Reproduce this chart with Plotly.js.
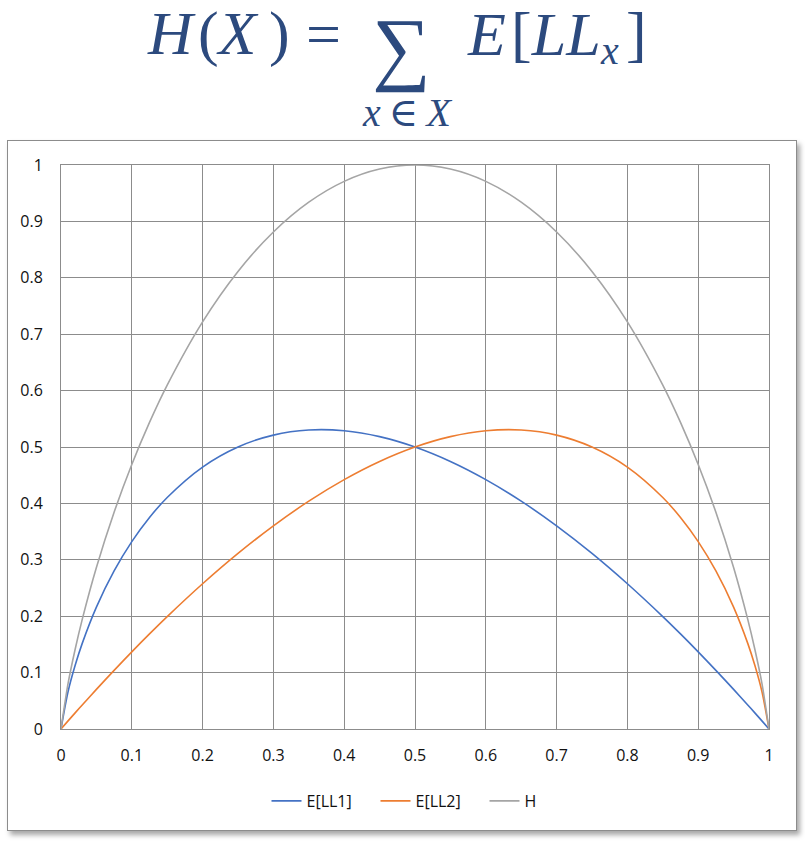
<!DOCTYPE html>
<html>
<head>
<meta charset="utf-8">
<script src="https://cdn.plot.ly/plotly-3.0.1.min.js"></script>
<style>
  html, body { margin: 0; padding: 0; background: #ffffff; }
  #frame { position: absolute; left: 7px; top: 140px; width: 788px; height: 689px;
           border: 1.5px solid #8c8c8c; box-shadow: 3px 4px 5px rgba(0,0,0,0.35); background: #fff; }
  #chart { position: absolute; left: 0; top: 0; width: 805px; height: 844px; }
</style>
</head>
<body>
<div id="frame"></div>
<div id="chart"></div>
<script>
// Probability values (x axis)
const xVals = [0, 0.01, 0.02, 0.03, 0.05, 0.075, 0.1, 0.125, 0.15, 0.2, 0.25, 0.3, 0.35, 0.4, 0.45, 0.5,
               0.55, 0.6, 0.65, 0.7, 0.75, 0.8, 0.85, 0.875, 0.9, 0.925, 0.95, 0.97, 0.98, 0.99, 1];
// E[LL1]
const ll1 = [0, 0.0664, 0.1129, 0.1518, 0.2161, 0.2803, 0.3322, 0.375, 0.4105, 0.4644, 0.5, 0.5211, 0.5301, 0.5288, 0.5184, 0.5,
             0.4744, 0.4422, 0.404, 0.3602, 0.3113, 0.2575, 0.1993, 0.1686, 0.1368, 0.104, 0.0703, 0.0426, 0.0286, 0.0144, 0];
// E[LL2]
const ll2 = [0, 0.0144, 0.0286, 0.0426, 0.0703, 0.104, 0.1368, 0.1686, 0.1993, 0.2575, 0.3113, 0.3602, 0.404, 0.4422, 0.4744, 0.5,
             0.5184, 0.5288, 0.5301, 0.5211, 0.5, 0.4644, 0.4105, 0.375, 0.3322, 0.2803, 0.2161, 0.1518, 0.1129, 0.0664, 0];
// H
const hVals = [0, 0.0808, 0.1414, 0.1944, 0.2864, 0.3843, 0.469, 0.5436, 0.6098, 0.7219, 0.8113, 0.8813, 0.9341, 0.971, 0.9928, 1,
               0.9928, 0.971, 0.9341, 0.8813, 0.8113, 0.7219, 0.6098, 0.5436, 0.469, 0.3843, 0.2864, 0.1944, 0.1414, 0.0808, 0];
const seriesNames = ['E[LL1]', 'E[LL2]', 'H'];
const tickVals = [0, 0.1, 0.2, 0.3, 0.4, 0.5, 0.6, 0.7, 0.8, 0.9, 1];
const tickText = ['0', '0.1', '0.2', '0.3', '0.4', '0.5', '0.6', '0.7', '0.8', '0.9', '1'];

const colors = ['#4472C4', '#ED7D31', '#A5A5A5'];
const seriesY = [ll1, ll2, hVals];
const traces = seriesY.map((ys, i) => ({
  x: xVals, y: ys, name: seriesNames[i], type: 'scatter', mode: 'lines',
  line: { color: colors[i], width: 1.6, shape: 'spline', smoothing: 0.8 }
}));

const L = 61, T = 165, R = 769, B = 729;
const px = x => (x - L) / (R - L);
const py = y => (B - y) / (B - T);
const navy = '#2c4a7e';
const serif = 'Liberation Serif, DejaVu Serif, serif';
function ann(text, x, yMid, size) {
  return { text, x: px(x), y: py(yMid), xref: 'paper', yref: 'paper', xanchor: 'left', yanchor: 'middle',
           showarrow: false, font: { family: serif, size, color: navy } };
}
const annotations = [
  ann('<i>H</i>\u200A(<i>X</i>\u2009)', 145, 34, 62),
  ann('=', 304, 34, 62),
  ann('∑', 370, 47, 82),
  ann('<i>E</i>\u200A[<i>LL</i>', 465, 34, 62),
  ann('<i>x</i>', 598, 50, 40),
  ann(']', 624, 34, 62),
  ann('<i>x</i>\u2009∈\u2009<i>X</i>', 360, 112, 40)
];

const axisCommon = {
  range: [0, 1], tickvals: tickVals, ticktext: tickText,
  showgrid: true, gridcolor: '#8c8c8c', gridwidth: 1,
  showline: true, linecolor: '#8c8c8c', linewidth: 1, mirror: true,
  zeroline: false, ticks: '',
  tickfont: { family: 'Open Sans, Noto Sans, sans-serif', size: 16, color: '#111' }
};

const layout = {
  width: 805, height: 844,
  margin: { l: L, r: 805 - R, t: T, b: 844 - B },
  paper_bgcolor: 'rgba(0,0,0,0)', plot_bgcolor: '#ffffff',
  showlegend: true,
  legend: { orientation: 'h', x: px(430), xanchor: 'center', y: py(801), yanchor: 'middle',
            entrywidth: 64, entrywidthmode: 'pixels',
            font: { family: 'Open Sans, Noto Sans, sans-serif', size: 16, color: '#111' } },
  xaxis: Object.assign({}, axisCommon, { ticklabelstandoff: 12 }),
  yaxis: Object.assign({}, axisCommon, { ticklabelstandoff: 14 }),
  annotations
};

Plotly.newPlot('chart', traces, layout, { displayModeBar: false });
</script>
</body>
</html>
